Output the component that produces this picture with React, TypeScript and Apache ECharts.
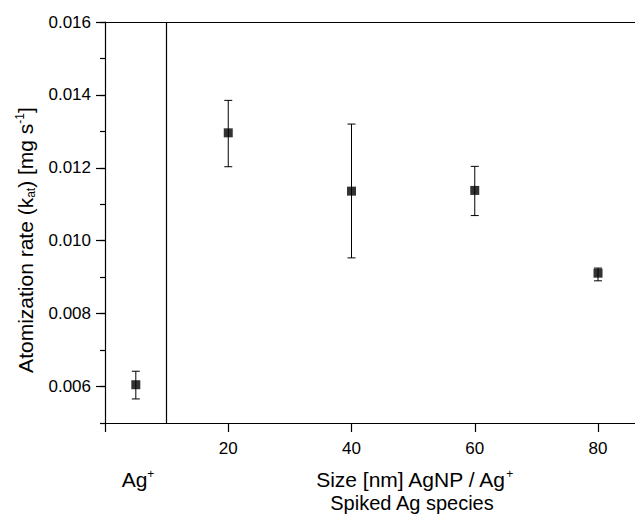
import React, { useEffect, useRef } from "react";
import * as echarts from "echarts";

const xPositions = [5, 20, 40, 60, 80];
const rates = [0.00605, 0.01296, 0.01136, 0.01138, 0.00911];
const errLow = [0.00566, 0.01203, 0.00953, 0.01069, 0.0089];
const errHigh = [0.00642, 0.01385, 0.0132, 0.01204, 0.00925];
const separatorX = [10];
const xTickValues = [0, 20, 40, 60, 80];
const xLabelValues = [20, 40, 60, 80];
const yMajorValues = [0.006, 0.008, 0.01, 0.012, 0.014, 0.016];

const FONT = "Liberation Sans, Arial, Helvetica, sans-serif";

export default function App() {
  const ref = useRef<HTMLDivElement>(null);
  useEffect(() => {
    if (!ref.current) return;
    const chart = echarts.init(ref.current, undefined, { renderer: "svg" });
    const axisLine = { show: true, lineStyle: { color: "#000", width: 1.2 } };
    const option: any = {
      animation: false,
      backgroundColor: "#fff",
      textStyle: { fontFamily: FONT },
      grid: { left: 105, top: 22, right: 0, bottom: 92, containLabel: false },
      xAxis: [
        {
          type: "value",
          min: 0,
          max: 86,
          interval: 20,
          position: "bottom",
          axisLine,
          axisTick: { show: true, length: 9, customValues: xTickValues, lineStyle: { color: "#000", width: 1.2 } },
          axisLabel: {
            customValues: xLabelValues,
            color: "#000",
            fontSize: 17,
            fontFamily: FONT,
            margin: 17,
          },
          splitLine: { show: false },
        },
        {
          type: "value",
          min: 0,
          max: 86,
          position: "top",
          axisLine,
          axisTick: { show: false },
          axisLabel: { show: false },
          splitLine: { show: false },
        },
      ],
      yAxis: [
        {
          type: "value",
          min: 0.005,
          max: 0.016,
          interval: 0.001,
          position: "left",
          axisLine,
          axisTick: { show: true, length: 5, lineStyle: { color: "#000", width: 1.2 } },
          axisLabel: {
            customValues: yMajorValues,
            formatter: (v: number) => v.toFixed(3),
            color: "#000",
            fontSize: 17,
            fontFamily: FONT,
            margin: 14,
          },
          splitLine: { show: false },
        },
        {
          type: "value",
          min: 0.005,
          max: 0.016,
          position: "left",
          axisLine: { show: false },
          axisTick: { show: true, length: 9, customValues: yMajorValues, lineStyle: { color: "#000", width: 1.2 } },
          axisLabel: { show: false },
          splitLine: { show: false },
        },
      ],
      series: [
        {
          type: "custom",
          xAxisIndex: 0,
          yAxisIndex: 0,
          silent: true,
          data: xPositions.map((x, i) => [x, errLow[i], errHigh[i]]),
          renderItem: (params: any, api: any) => {
            const x = api.value(0);
            const pLo = api.coord([x, api.value(1)]);
            const pHi = api.coord([x, api.value(2)]);
            const w = 4;
            const style = { stroke: "#000", lineWidth: 1 };
            return {
              type: "group",
              children: [
                { type: "line", shape: { x1: pLo[0], y1: pLo[1], x2: pHi[0], y2: pHi[1] }, style },
                { type: "line", shape: { x1: pLo[0] - w, y1: pLo[1], x2: pLo[0] + w, y2: pLo[1] }, style },
                { type: "line", shape: { x1: pHi[0] - w, y1: pHi[1], x2: pHi[0] + w, y2: pHi[1] }, style },
              ],
            };
          },
          z: 2,
        },
        {
          type: "scatter",
          xAxisIndex: 0,
          yAxisIndex: 0,
          symbol: "rect",
          symbolSize: 9,
          itemStyle: { color: "#000" },
          data: xPositions.map((x, i) => [x, rates[i]]),
          z: 3,
          markLine: {
            silent: true,
            symbol: "none",
            label: { show: false },
            lineStyle: { color: "#000", width: 1.2, type: "solid" },
            data: separatorX.map((v) => ({ xAxis: v })),
          },
        },
      ],
      graphic: [
        {
          type: "text",
          x: 25,
          y: 240,
          rotation: Math.PI / 2,
          style: {
            text: "{a|Atomization rate (k}{sub|at}{a|) [mg s}{sup|-1}{a|]}",
            align: "center",
            verticalAlign: "middle",
            rich: {
              a: { fontSize: 21, fontFamily: FONT, fill: "#000", lineHeight: 23 },
              sub: { fontSize: 12, fontFamily: FONT, fill: "#000", lineHeight: 12, verticalAlign: "bottom" },
              sup: { fontSize: 12, fontFamily: FONT, fill: "#000", lineHeight: 12, verticalAlign: "top" },
            },
          },
        },
        {
          type: "text",
          x: 138,
          y: 479,
          style: {
            text: "{a|Ag}{sup|+}",
            align: "center",
            verticalAlign: "middle",
            rich: {
              a: { fontSize: 21, fontFamily: FONT, fill: "#000", lineHeight: 23 },
              sup: { fontSize: 12, fontFamily: FONT, fill: "#000", lineHeight: 12, verticalAlign: "top" },
            },
          },
        },
        {
          type: "text",
          x: 414,
          y: 479,
          style: {
            text: "{a|Size [nm] AgNP / Ag}{sup|+}",
            align: "center",
            verticalAlign: "middle",
            rich: {
              a: { fontSize: 21, fontFamily: FONT, fill: "#000", lineHeight: 23 },
              sup: { fontSize: 12, fontFamily: FONT, fill: "#000", lineHeight: 12, verticalAlign: "top" },
            },
          },
        },
        {
          type: "text",
          x: 412,
          y: 503,
          style: {
            text: "Spiked Ag species",
            align: "center",
            verticalAlign: "middle",
            fontSize: 20,
            fontFamily: FONT,
            fill: "#000",
          },
        },
      ],
    };
    chart.setOption(option);
    return () => chart.dispose();
  }, []);
  return (
    <div
      ref={ref}
      style={{ position: "absolute", left: 0, top: 0, width: 635, height: 515 }}
    />
  );
}
